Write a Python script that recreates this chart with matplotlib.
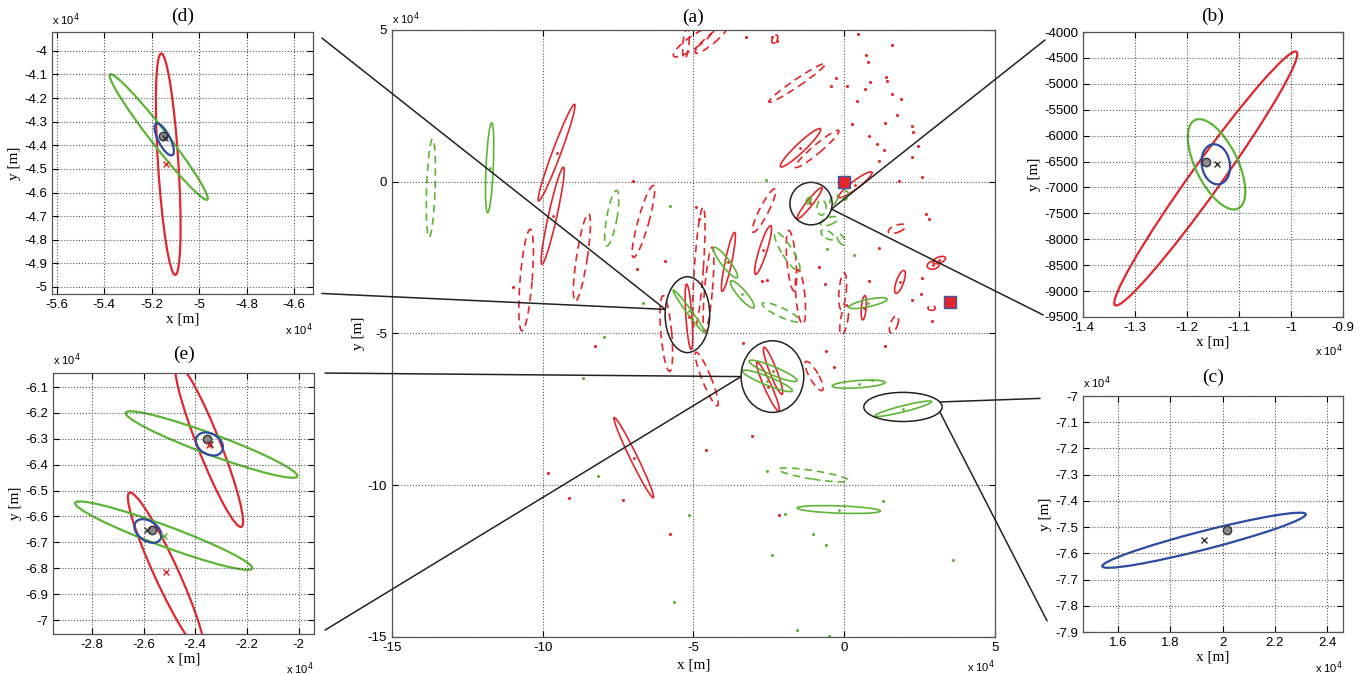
import numpy as np
import matplotlib.pyplot as plt
from matplotlib.patches import Ellipse, ConnectionPatch
from matplotlib.ticker import FuncFormatter

plt.rcParams['font.family'] = ['Liberation Sans', 'DejaVu Sans']
plt.rcParams['font.size'] = 9

RED = '#e3262b'
GREEN = '#5db536'
BLUE = '#2b4aa0'
GRAY = '#8a8a8a'
DASH = (0, (4.5, 3))

# ---- main view (a), units 1e4 m: (cx, cy, semi-major, semi-minor, angle deg) ----
red_solid = [
    (-9.54, 0.96, 1.70, 0.14, 69.4),
    (-9.67, -1.12, 1.64, 0.14, 77.4),
    (-6.98, -9.09, 1.47, 0.12, 116.2),
    (-1.45, 1.12, 0.91, 0.15, 43.3),
    (0.37, -0.10, 0.69, 0.13, 37.0),
    (-1.15, -0.71, 0.66, 0.10, 51.4),
    (-2.69, -2.25, 0.84, 0.13, 72.6),
    (-3.84, -2.64, 0.99, 0.11, 78.0),
    (-5.15, -4.45, 1.08, 0.10, 94.0),
    (0.65, -4.15, 0.40, 0.08, 85.0),
    (1.85, -3.30, 0.40, 0.12, 70.0),
    (2.95, -2.75, 0.20, 0.13, 10.0),
    (3.15, -2.58, 0.22, 0.10, 20.0),
    (-2.36, -6.23, 0.83, 0.12, 111.3),
    (-2.53, -6.75, 0.88, 0.12, 114.2),
]
red_dashed = [
    (-10.55, -3.24, 1.68, 0.20, 85.3),
    (-8.70, -2.50, 1.46, 0.18, 81.3),
    (-6.66, -1.31, 1.23, 0.18, 74.4),
    (-5.90, -5.00, 1.25, 0.18, 95.0),
    (-4.56, -6.50, 0.95, 0.15, 112.0),
    (-4.82, -2.83, 2.00, 0.15, 86.0),
    (-4.50, -3.55, 1.40, 0.13, 85.0),
    (-2.66, -0.95, 0.80, 0.15, 63.0),
    (-1.75, -2.60, 1.00, 0.15, 95.0),
    (-1.45, -3.80, 0.90, 0.15, 95.0),
    (-1.56, 3.26, 1.13, 0.12, 34.0),
    (-0.90, 1.08, 0.94, 0.14, 40.0),
    (-0.05, -3.60, 0.60, 0.12, 85.0),
    (0.00, -4.55, 0.50, 0.12, 80.0),
    (1.75, -1.55, 0.30, 0.12, 20.0),
    (-5.00, 4.60, 0.80, 0.20, 35.0),
    (-4.40, 4.70, 0.70, 0.15, 40.0),
    (-5.25, 4.55, 0.50, 0.10, 85.0),
    (-1.00, -6.40, 0.55, 0.15, 120.0),
    (1.65, -4.70, 0.30, 0.12, 70.0),
    (2.90, -4.16, 0.12, 0.08, 0.0),
    (-2.30, 4.70, 0.15, 0.08, 60.0),
]
green_solid = [
    (-11.76, 0.46, 1.48, 0.12, 87.4),
    (-3.94, -2.66, 0.63, 0.14, -52.0),
    (-3.38, -3.71, 0.58, 0.14, -49.0),
    (-5.15, -4.27, 0.87, 0.08, -53.4),
    (0.79, -4.00, 0.65, 0.12, 12.0),
    (-2.36, -6.23, 0.86, 0.14, -22.4),
    (-2.55, -6.56, 0.89, 0.14, -21.7),
    (0.48, -6.67, 0.88, 0.12, 4.0),
    (1.96, -7.48, 0.97, 0.10, 14.0),
    (-0.18, -10.80, 1.38, 0.12, -2.0),
    (-1.18, -0.62, 0.12, 0.07, 60.0),
]
green_dashed = [
    (-13.71, -0.21, 1.62, 0.14, 88.0),
    (-7.71, -1.20, 0.93, 0.17, 79.7),
    (-1.89, -2.30, 0.75, 0.18, -58.0),
    (-2.10, -4.30, 0.68, 0.15, -25.0),
    (-1.02, -9.66, 1.18, 0.14, -9.0),
    (-0.75, -0.85, 0.25, 0.15, 90.0),
    (-0.50, -1.30, 0.30, 0.12, 20.0),
    (-0.35, -0.60, 0.20, 0.10, 60.0),
    (-0.55, -1.75, 0.25, 0.12, -30.0),
    (-0.10, -1.90, 0.20, 0.10, -60.0),
    (0.05, -0.45, 0.15, 0.08, 80.0),
]
red_dots_x = [-3.27, -2.39, -2.22, 0.45, 1.57, 0.71, 0.80, 0.87, 1.39, 1.43, 0.69, 0.41,
              -0.45, -0.26, 1.57, 1.87, 1.76, 1.37, 2.26, 2.29, 0.82, 1.09, 1.32, 2.45,
              2.26, 1.15, 2.59, 1.83, 0.10, 0.27, 2.70, 2.81, -0.82, -0.64, 0.82, 1.15,
              2.59, 2.56, 2.26, 2.92, -2.72, -2.55, -4.91, -4.80, -10.99, -6.88, -5.96,
              -6.99, -8.28, -9.81, -9.14, -7.35, -5.79, -3.36, -0.60, -0.35, -3.05,
              -4.60, -2.15, 1.35]
red_dots_y = [4.76, 4.76, 4.65, 4.87, 4.52, 4.19, 3.94, 3.30, 3.44, 3.31, 3.06, 2.67,
              3.17, 3.41, 2.89, 2.73, 2.20, 1.93, 1.85, 1.65, 1.52, 1.24, 1.06, 1.19,
              0.83, 0.69, 0.14, 0.01, 3.14, 1.90, -1.07, -1.23, -2.81, -3.38, -3.27, -2.17,
              -3.16, -3.69, -3.90, -4.59, -3.27, -3.25, -0.83, -1.23, -3.47, -2.88, -2.61,
              0.03, -5.41, -9.61, -10.41, -10.48, -11.62, -5.32, -5.57, -6.12, -8.39,
              -8.83, -10.99, -5.40]
green_dots_x = [-5.77, -6.68, -2.59, -0.56, 0.32, -7.96, -8.65, -8.17, -5.15, -5.63,
                0.93, -2.55, -1.95, 1.28, -1.03, -0.62, -2.39, 3.61, -1.56, -0.51]
green_dots_y = [-0.79, -3.98, 0.07, -2.22, -2.41, -5.13, -6.48, -9.68, -10.99, -13.84,
                -6.52, -9.53, -10.96, -10.52, -11.59, -11.98, -12.31, -12.47, -14.76, -14.97]
square_x = [0.0, 3.5]
square_y = [0.0, -3.95]

# zoom outlines in (a): cx, cy, rx, ry
zoom_d = (-5.20, -4.38, 0.74, 1.25)
zoom_b = (-1.10, -0.72, 0.70, 0.70)
zoom_e = (-2.38, -6.42, 1.04, 1.18)
zoom_c = (1.95, -7.42, 1.30, 0.48)

# ---- panel (d), units 1e4 m ----
d_red = [(-5.13, -4.48, 0.47, 0.043, 93.6)]
d_green = [(-5.17, -4.365, 0.335, 0.035, -52.3)]
d_blue = [(-5.147, -4.375, 0.075, 0.025, -63.0)]
d_est = ([-5.152], [-4.359])
d_blk_x = ([-5.142], [-4.37])
d_red_x = ([-5.141], [-4.481])

# ---- panel (e), units 1e4 m ----
e_red = [(-2.346, -6.325, 0.339, 0.044, 111.6), (-2.513, -6.816, 0.339, 0.046, 114.7)]
e_green = [(-2.337, -6.322, 0.354, 0.04, -20.3), (-2.522, -6.674, 0.365, 0.04, -20.3)]
e_blue = [(-2.345, -6.32, 0.056, 0.04, -30.0), (-2.583, -6.656, 0.058, 0.038, -35.0)]
e_est = ([-2.356, -2.568], [-6.299, -6.653])
e_blk_x = ([-2.343, -2.588], [-6.319, -6.653])
e_red_x = ([-2.346, -2.513], [-6.325, -6.816])
e_grn_x = ([-2.521], [-6.675])

# ---- panel (b), metres ----
b_red = [(-11637, -6827, 3004, 290, 54.5)]
b_green = [(-11430, -6553, 949, 405, 116.0)]
b_blue = [(-11445, -6553, 390, 270, 100.0)]
b_est = ([-11634], [-6505])
b_blk_x = ([-11430], [-6550])

# ---- panel (c), units 1e4 m ----
c_blue = [(1.929, -7.55, 0.4015, 0.035, 14.35)]
c_est = ([2.017], [-7.512])
c_blk_x = ([1.928], [-7.548])


def draw(ax, items, color, ls='-', lw=1.2, centers=False):
    for cx, cy, a, b, ang in items:
        ax.add_patch(Ellipse((cx, cy), 2 * a, 2 * b, angle=ang, fill=False,
                             ec=color, ls=ls, lw=lw))
        if centers:
            ax.plot(cx, cy, '.', color=color, ms=2)


def style(ax, xlim, ylim, xt, yt, fmt='%g'):
    ax.set_xlim(xlim)
    ax.set_ylim(ylim)
    ax.set_xticks(xt)
    ax.set_yticks(yt)
    f = FuncFormatter(lambda v, p: fmt % v)
    ax.xaxis.set_major_formatter(f)
    ax.yaxis.set_major_formatter(f)
    ax.grid(True, ls=':', color='#555555', lw=0.8)
    ax.tick_params(direction='in', top=True, right=True, length=4, labelsize=9.5)
    for s in ax.spines.values():
        s.set_color('#555555')
        s.set_linewidth(0.9)
    ax.set_xlabel('x [m]', family='Liberation Serif', fontsize=11, labelpad=1)
    ax.set_ylabel('y [m]', family='Liberation Serif', fontsize=11, labelpad=2)


def offset(ax, top=True, bottom=True, ytop=1.015, ybot=-0.1):
    if top:
        ax.text(0.0, ytop, r'x 10$^4$', transform=ax.transAxes, ha='left', va='bottom', fontsize=8)
    if bottom:
        ax.text(1.0, ybot, r'x 10$^4$', transform=ax.transAxes, ha='right', va='top', fontsize=8)


def title(ax, s, pad):
    ax.set_title(s, family='Liberation Serif', fontsize=14, pad=pad)


fig = plt.figure(figsize=(13.71, 6.74), dpi=100)

# main (a)
ax = fig.add_axes([0.2859, 0.0549, 0.4398, 0.9006])
draw(ax, red_solid, RED, centers=True)
draw(ax, red_dashed, RED, ls=DASH)
draw(ax, green_solid, GREEN, centers=True)
draw(ax, green_dashed, GREEN, ls=DASH)
ax.plot(red_dots_x, red_dots_y, '.', color=RED, ms=2.5)
ax.plot(green_dots_x, green_dots_y, '.', color=GREEN, ms=2.5)
ax.plot(square_x, square_y, 's', mfc=RED, mec='#3a56a8', ms=8, mew=1)
for cx, cy, rx, ry in [zoom_d, zoom_b, zoom_e, zoom_c]:
    ax.add_patch(Ellipse((cx, cy), 2 * rx, 2 * ry, fill=False, ec='#222222', lw=1.1))
style(ax, (-15, 5), (-15, 5), [-15, -10, -5, 0, 5], [-15, -10, -5, 0, 5])
ax.set_xlabel('x [m]', family='Liberation Serif', fontsize=11, labelpad=3)
offset(ax, ytop=1.005, ybot=-0.035)
title(ax, '(a)', 6)

# (d)
axd = fig.add_axes([0.0379, 0.5638, 0.1904, 0.3887])
draw(axd, d_red, RED, lw=1.6)
draw(axd, d_green, GREEN, lw=1.6)
draw(axd, d_blue, BLUE, lw=1.6)
axd.plot(*d_est, 'o', mfc=GRAY, mec='#333333', ms=6)
axd.plot(*d_blk_x, 'x', color='#333333', ms=4)
axd.plot(*d_red_x, 'x', color=RED, ms=5)
style(axd, (-5.62, -4.52), (-5.03, -3.92), np.arange(-5.6, -4.55, 0.2), np.arange(-5.0, -3.95, 0.1))
offset(axd, ybot=-0.105)
title(axd, '(d)', 8)

# (e)
axe = fig.add_axes([0.0387, 0.0593, 0.1904, 0.3872])
draw(axe, e_red, RED, lw=1.6)
draw(axe, e_green, GREEN, lw=1.6)
draw(axe, e_blue, BLUE, lw=1.6)
axe.plot(*e_est, 'o', mfc=GRAY, mec='#333333', ms=6)
axe.plot(*e_blk_x, 'x', color='#333333', ms=4)
axe.plot(*e_red_x, 'x', color=RED, ms=5)
axe.plot(*e_grn_x, 'x', color=GREEN, ms=5)
style(axe, (-2.95, -1.94), (-7.054, -6.046), np.arange(-2.8, -1.95, 0.2), np.arange(-7.0, -6.05, 0.1))
offset(axe, ytop=1.02, ybot=-0.1)
title(axe, '(e)', 10)

# (b)
axb = fig.add_axes([0.7899, 0.5297, 0.1896, 0.4228])
draw(axb, b_red, RED, lw=1.6)
draw(axb, b_green, GREEN, lw=1.6)
draw(axb, b_blue, BLUE, lw=1.6)
axb.plot(*b_est, 'o', mfc=GRAY, mec='#333333', ms=6)
axb.plot(*b_blk_x, 'x', color='#333333', ms=4)
style(axb, (-14000, -9000), (-9500, -4000), np.arange(-14000, -8999, 1000), np.arange(-9500, -3999, 500))
axb.xaxis.set_major_formatter(FuncFormatter(lambda v, p: '%g' % (v / 1e4)))
offset(axb, top=False, ybot=-0.09)
title(axb, '(b)', 8)

# (c)
axc = fig.add_axes([0.7899, 0.0623, 0.1896, 0.3501])
draw(axc, c_blue, BLUE, lw=1.6)
axc.plot(*c_est, 'o', mfc=GRAY, mec='#333333', ms=6)
axc.plot(*c_blk_x, 'x', color='#333333', ms=4)
style(axc, (1.466, 2.46), (-7.9, -7.0), np.arange(1.6, 2.45, 0.2), np.arange(-7.9, -6.95, 0.1))
offset(axc, ytop=1.02, ybot=-0.115)
title(axc, '(c)', 10)


# connector lines from zoom outlines to the panels
def ring(z, deg):
    cx, cy, rx, ry = z
    t = np.radians(deg)
    return cx + rx * np.cos(t), cy + ry * np.sin(t)


links = [
    (axd, (1.034, 0.977), ring(zoom_d, 172)),
    (axd, (1.034, 0.002), ring(zoom_d, 172)),
    (axe, (1.042, 1.0), ring(zoom_e, 180)),
    (axe, (1.042, 0.015), ring(zoom_e, 180)),
    (axb, (-0.146, 0.972), ring(zoom_b, -15)),
    (axb, (-0.153, 0.007), ring(zoom_b, -15)),
    (axc, (-0.165, 0.99), ring(zoom_c, 20)),
    (axc, (-0.138, 0.047), ring(zoom_c, -20)),
]
for pax, pa, pb in links:
    con = ConnectionPatch(xyA=pa, coordsA=pax.transAxes, xyB=pb, coordsB=ax.transData,
                          color='#222222', lw=1.1)
    fig.add_artist(con)

fig.savefig('out.png', dpi=100)
